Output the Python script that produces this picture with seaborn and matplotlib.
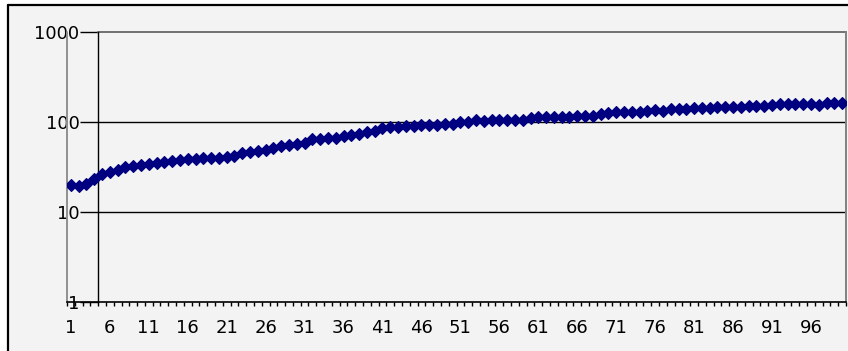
import matplotlib
matplotlib.use("Agg")
import matplotlib.pyplot as plt
from matplotlib.patches import Rectangle
from matplotlib.lines import Line2D
from matplotlib.ticker import FixedLocator, NullLocator
import numpy as np
import pandas as pd
import seaborn as sns

# Series values, one per category 1..100
categories = list(range(1, 101))
values = [
    20, 19.5, 20.5, 23, 26.5, 28, 29.3, 32, 32.7, 33.3,
    34, 34.8, 36.3, 36.5, 37.8, 38.8, 39, 39.5, 40.2, 39.8,
    41.2, 42, 45, 46.8, 48, 49, 51, 53.5, 55, 57,
    59, 64, 65, 66, 67, 70, 72, 73, 78, 80,
    85, 87, 89, 89.5, 91, 93, 92.5, 93.5, 95, 95.5,
    99, 101, 105, 103.5, 105, 105.5, 106, 106, 105, 110,
    113, 114, 115, 113, 114, 117, 117, 117.5, 123, 125,
    128, 128, 128.5, 129, 133, 136, 134, 139, 139, 139,
    144, 143, 144, 148, 148, 148, 148.5, 152, 150, 151,
    156, 157, 157, 157, 157.5, 158, 156, 163, 164, 162,
]
y_ticks = [1, 10, 100, 1000]
y_tick_labels = ["1", "10", "100", "1000"]
x_label_categories = categories[::5]
x_tick_labels = [str(c) for c in x_label_categories]

sns.set_theme(style="white")
plt.rcParams["font.family"] = ["DejaVu Sans"]

W, H = 848, 351
fig = plt.figure(figsize=(W / 100, H / 100), dpi=100, facecolor="white")

# chart area background with its black border on top and left
fig.add_artist(Rectangle((8 / W, 0), 1, (H - 5) / H, transform=fig.transFigure,
                         facecolor="#f3f3f3", edgecolor="none", zorder=0))
fig.add_artist(Line2D([8 / W, 8 / W], [0, (H - 5) / H], color="black", lw=1.6,
                      transform=fig.transFigure))
fig.add_artist(Line2D([8 / W, 1], [(H - 5) / H, (H - 5) / H], color="black", lw=1.6,
                      transform=fig.transFigure))

ax = fig.add_axes([67 / W, 49 / H, 779 / W, 270 / H])
ax.set_facecolor("none")

df = pd.DataFrame({"category": categories, "value": values})
sns.lineplot(data=df, x="category", y="value", ax=ax, color="#000080", lw=1.6,
             marker="D", markersize=6, markeredgecolor="#000080",
             markeredgewidth=0.8, zorder=4)

ax.set_yscale("log")
ax.set_ylim(1, 1000)
ax.set_xlim(0.5, 100.5)
ax.set_xlabel("")
ax.set_ylabel("")

# value axis crosses between categories 4 and 5
cross = 4.5
ax.spines["left"].set_position(("data", cross))
ax.spines["left"].set_color("black")
ax.spines["left"].set_linewidth(1.0)
ax.spines["bottom"].set_color("black")
ax.spines["bottom"].set_linewidth(1.2)
ax.spines["top"].set_visible(False)
ax.spines["right"].set_color("#808080")
ax.spines["right"].set_linewidth(1.4)

# plot-area frame: left edge and top edge in gray
ax.plot([0.5, 0.5], [1, 1000], color="#909090", lw=1.4, clip_on=False, zorder=1)
ax.plot([cross, 100.5], [1000, 1000], color="#707070", lw=1.4, clip_on=False, zorder=1)

# major gridlines
ax.hlines([10, 100], cross, 100.5, colors="black", lw=1.0, zorder=1)

ax.yaxis.set_major_locator(FixedLocator(y_ticks))
ax.set_yticklabels(y_tick_labels)
ax.yaxis.set_minor_locator(NullLocator())
ax.tick_params(axis="y", which="major", direction="out", length=13, width=1,
               color="black", pad=0.5, labelsize=13, labelcolor="black", left=True)

ax.xaxis.set_major_locator(FixedLocator(x_label_categories))
ax.set_xticklabels(x_tick_labels)
ax.xaxis.set_minor_locator(FixedLocator(np.arange(0.5, 101, 1.0)))
ax.tick_params(axis="x", which="major", length=0, pad=12, labelsize=13,
               labelcolor="black", bottom=True)
ax.tick_params(axis="x", which="minor", direction="out", length=3.2, width=1,
               color="black", bottom=True)

fig.savefig("out.png", dpi=100, facecolor="white")
